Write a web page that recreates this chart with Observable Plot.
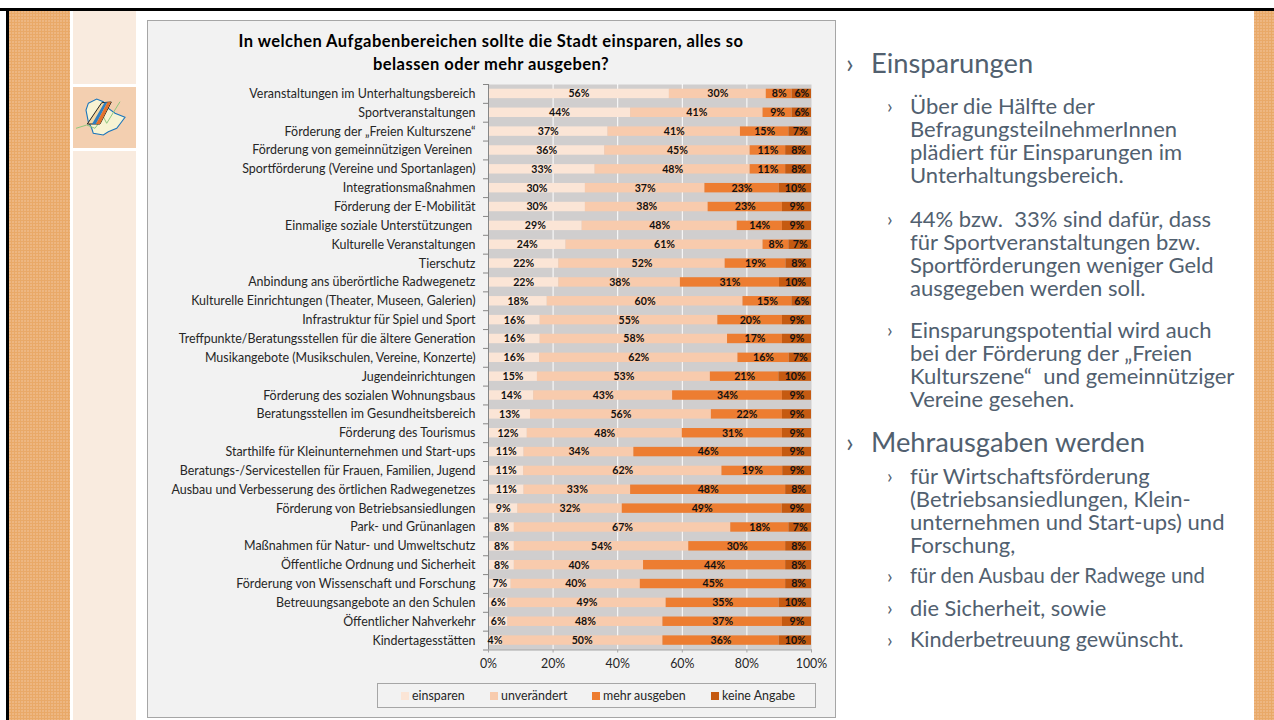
<!DOCTYPE html>
<html lang="de">
<head>
<meta charset="utf-8">
<script src="https://cdn.jsdelivr.net/npm/d3@7"></script>
<script src="https://cdn.jsdelivr.net/npm/@observablehq/plot@0.6"></script>
<style>
html,body{margin:0;padding:0;background:#fff;overflow:hidden}
#page{position:relative;width:1274px;height:720px;overflow:hidden;font-family:Lato,sans-serif}
.abs{position:absolute}
.orange{background-color:#e9a968;background-image:radial-gradient(circle at 1px 1px,#eeb783 0.7px,transparent 1px);background-size:3px 3px}
.peach{background:#f9ebdf}
#panel{left:147px;top:20px;width:687px;height:696px;background:#f2f2f2;border:1px solid #a6a6a6;box-sizing:content-box}
#title{left:147px;top:29.5px;width:688px;text-align:center;font-weight:700;font-size:16.5px;letter-spacing:.45px;line-height:23px;color:#000}
#chart{left:147px;top:20px}
#legend{left:377px;top:683px;width:437px;height:23px;border:1px solid #a6a6a6;font-size:12.4px;color:#262626}
#legend span{position:absolute;top:4px;white-space:nowrap}
#legend i{position:absolute;top:8px;width:8px;height:8px}
.h{position:absolute;color:#51606f;font-size:27.3px;line-height:30px;white-space:nowrap}
.s{position:absolute;color:#51606f;font-size:22px;line-height:22.9px;white-space:pre}
.b{position:absolute;color:#51606f;font-size:20px;line-height:23px}
</style>
</head>
<body>
<div id="page">
  <div class="abs" style="left:0;top:8px;width:1274px;height:3px;background:#000"></div>
  <div class="abs" style="left:6px;top:8px;width:3px;height:712px;background:#000"></div>
  <div class="abs orange" style="left:9px;top:11px;width:61px;height:709px"></div>
  <div class="abs orange" style="left:1254px;top:11px;width:20px;height:709px"></div>
  <div class="abs peach" style="left:73px;top:11px;width:63px;height:73px"></div>
  <div class="abs" style="left:73px;top:87px;width:63px;height:61px;background:#f3cfb0"></div>
  <svg class="abs" style="left:73px;top:87px" width="63" height="61" viewBox="0 0 63 61">
    <path d="M15.3 16.3 L23.7 12 L30.3 14.7 L33 19.7 L42 26.3 L52 30.3 L47 37 L43.7 41.3 L35.3 44.7 L30.3 48 L20.3 46.3 L18.7 41.3 L15.3 34.7 L13 23 Z" fill="#f7f3d3" stroke="#1b75bb" stroke-width="1.1"/>
    <path d="M3 41.3 L13.7 38 L22 41.3 L30.3 29.7 L33.7 36.3 L47 14.7" fill="none" stroke="#8fc77e" stroke-width="1"/>
    <path d="M14.3 37 L28.7 15.7 L38.3 15 L27 37 Z" fill="#f4d9a4" stroke="#222" stroke-width="1"/>
    <path d="M19 37 L31.5 15.5 L34.5 15.3 L23 37 Z" fill="#2f7fc1"/>
    <path d="M23 37 L34.5 15.3 L38 15 L27 37 Z" fill="#e4702a"/>
  </svg>
  <div class="abs peach" style="left:73px;top:151px;width:63px;height:569px"></div>

  <div class="abs" id="panel"></div>
  <div class="abs" id="title">In welchen Aufgabenbereichen sollte die Stadt einsparen, alles so<br>belassen oder mehr ausgeben?</div>
  <div class="abs" id="chart"></div>
  <div class="abs" id="legend"></div>

  <div class="h" style="left:846px;top:48px">›</div><div class="h" style="left:871px;top:48px">Einsparungen</div>
  <div class="b" style="left:887px;top:94px">›</div>
  <div class="s" style="left:910px;top:95px">Über die Hälfte der
BefragungsteilnehmerInnen
plädiert für Einsparungen im
Unterhaltungsbereich.</div>
  <div class="b" style="left:887px;top:207px">›</div>
  <div class="s" style="left:910px;top:208px">44% bzw.  33% sind dafür, dass
für Sportveranstaltungen bzw.
Sportförderungen weniger Geld
ausgegeben werden soll.</div>
  <div class="b" style="left:887px;top:318px">›</div>
  <div class="s" style="left:910px;top:319px">Einsparungspotential wird auch
bei der Förderung der „Freien
Kulturszene“  und gemeinnütziger
Vereine gesehen.</div>
  <div class="h" style="left:846px;top:427px">›</div><div class="h" style="left:871px;top:427px">Mehrausgaben werden</div>
  <div class="b" style="left:887px;top:464px">›</div>
  <div class="s" style="left:910px;top:465px">für Wirtschaftsförderung
(Betriebsansiedlungen, Klein-
unternehmen und Start-ups) und
Forschung,</div>
  <div class="b" style="left:887px;top:564px">›</div>
  <div class="s" style="left:910px;top:564px;font-size:20.3px">für den Ausbau der Radwege und</div>
  <div class="b" style="left:887px;top:596px">›</div>
  <div class="s" style="left:910px;top:597px;font-size:21.8px">die Sicherheit, sowie</div>
  <div class="b" style="left:887px;top:628px">›</div>
  <div class="s" style="left:910px;top:628px;font-size:21.6px">Kinderbetreuung gewünscht.</div>
</div>
<script>
const categories = [
  "Veranstaltungen im Unterhaltungsbereich","Sportveranstaltungen","Förderung der „Freien Kulturszene“",
  "Förderung von gemeinnützigen Vereinen\u00a0","Sportförderung (Vereine und Sportanlagen)","Integrationsmaßnahmen",
  "Förderung der E-Mobilität","Einmalige soziale Unterstützungen\u00a0","Kulturelle Veranstaltungen","Tierschutz",
  "Anbindung ans überörtliche Radwegenetz","Kulturelle Einrichtungen (Theater, Museen, Galerien)","Infrastruktur für Spiel und Sport",
  "Treffpunkte/Beratungsstellen für die ältere Generation","Musikangebote (Musikschulen, Vereine, Konzerte)","Jugendeinrichtungen",
  "Förderung des sozialen Wohnungsbaus","Beratungsstellen im Gesundheitsbereich","Förderung des Tourismus",
  "Starthilfe für Kleinunternehmen und Start-ups","Beratungs-/Servicestellen für Frauen, Familien, Jugend","Ausbau und Verbesserung des örtlichen Radwegenetzes",
  "Förderung von Betriebsansiedlungen","Park- und Grünanlagen","Maßnahmen für Natur- und Umweltschutz",
  "Öffentliche Ordnung und Sicherheit","Förderung von Wissenschaft und Forschung","Betreuungsangebote an den Schulen",
  "Öffentlicher Nahverkehr","Kindertagesstätten"
];
const einsparen    = [56,44,37,36,33,30,30,29,24,22,22,18,16,16,16,15,14,13,12,11,11,11,9,8,8,8,7,6,6,4];
const unveraendert = [30,41,41,45,48,37,38,48,61,52,38,60,55,58,62,53,43,56,48,34,62,33,32,67,54,40,40,49,48,50];
const mehrAusgeben = [8,9,15,11,11,23,23,14,8,19,31,15,20,17,16,21,34,22,31,46,19,48,49,18,30,44,45,35,37,36];
const keineAngabe  = [6,6,7,8,8,10,9,9,7,8,10,6,9,9,7,10,9,9,9,9,9,8,9,7,8,8,8,10,9,10];
const seriesNames  = ["einsparen","unverändert","mehr ausgeben","keine Angabe"];
const seriesColors = ["#fbe5d6","#f8cbad","#ed7d31","#c55a11"];
const legendSwatchX = [23,112,214,333];
const xTicks = [0,0.2,0.4,0.6,0.8,1];

const seriesValues = [einsparen,unveraendert,mehrAusgeben,keineAngabe];
const rows = seriesNames.flatMap((s,i)=>categories.map((c,j)=>({category:c,series:s,value:seriesValues[i][j]})));
const stackOpts = {x:"value",y:"category",z:"series",offset:"normalize",order:seriesNames};
const step = (649.5-84)/categories.length;
const font = "Lato, sans-serif";

const plot = Plot.plot({
  width:688,height:660,marginLeft:341,marginRight:24,marginTop:64,marginBottom:30.5,
  style:{background:"transparent",fontFamily:font,overflow:"visible"},
  x:{domain:[0,1]},
  y:{type:"band",domain:categories,paddingInner:0.5,paddingOuter:0.25,round:false},
  color:{domain:seriesNames,range:seriesColors},
  marks:[
    Plot.frame({fill:"#d0cece",stroke:"none"}),
    Plot.ruleX(xTicks.slice(1,-1),{stroke:"#fff",strokeWidth:1}),
    Plot.barX(rows,Plot.stackX({...stackOpts,fill:"series"})),
    Plot.frame({anchor:"left",stroke:"#868686"}),
    Plot.frame({anchor:"bottom",stroke:"#a6a6a6"}),
    Plot.axisY({tickSize:0,tickPadding:13,fontSize:12.45,color:"#262626",lineAnchor:"middle",label:null}),
    Plot.ruleY(categories,{y:d=>d,x1:0,x2:0,insetLeft:-5,dy:-step/2,stroke:"#868686"}),
    Plot.ruleY(categories.slice(-1),{y:d=>d,x1:0,x2:0,insetLeft:-5,dy:step/2,stroke:"#868686"}),
    Plot.axisX({ticks:xTicks,tickFormat:d3.format(".0%"),tickSize:3,tickPadding:6,fontSize:12.4,color:"#262626",stroke:"#a6a6a6",label:null}),
    Plot.text(rows,Plot.stackX({...stackOpts,text:d=>d.value+"%",fill:"#111",fontWeight:700,fontSize:10.6}))
  ]
});
document.getElementById("chart").appendChild(plot);

const legend = document.getElementById("legend");
seriesNames.forEach((s,i)=>{
  const sw=document.createElement("i");sw.style.left=legendSwatchX[i]+"px";sw.style.background=seriesColors[i];legend.appendChild(sw);
  const t=document.createElement("span");t.style.left=(legendSwatchX[i]+11)+"px";t.textContent=s;legend.appendChild(t);
});
</script>
</body>
</html>
